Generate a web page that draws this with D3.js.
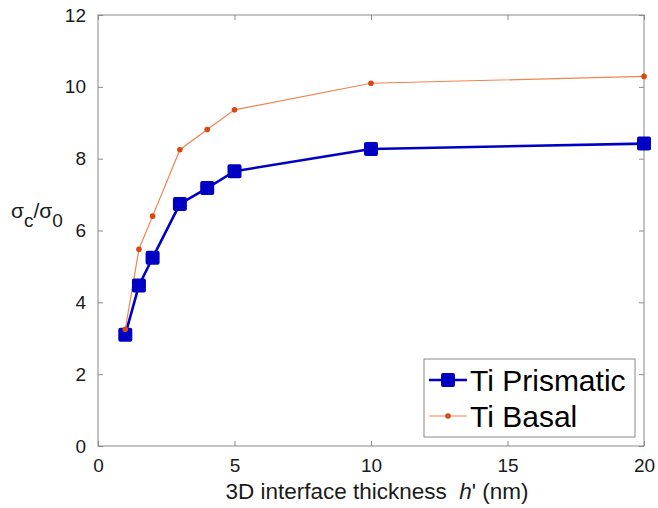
<!DOCTYPE html>
<html><head><meta charset="utf-8">
<script src="https://cdn.jsdelivr.net/npm/d3@7"></script>
<style>body{margin:0;background:#fff;} svg{display:block;font-family:"Liberation Sans",Arial,Helvetica,sans-serif;}</style>
</head><body>
<svg id="c" width="658" height="508"></svg>
<script>
const thickness = [1, 1.5, 2, 3, 4, 5, 10, 20];
const prismatic = [3.1, 4.47, 5.24, 6.74, 7.18, 7.65, 8.27, 8.42];
const basal     = [3.25, 5.48, 6.40, 8.25, 8.81, 9.36, 10.10, 10.29];
const xTicks = [0, 5, 10, 15, 20];
const yTicks = [0, 2, 4, 6, 8, 10, 12];
const seriesNames = ["Ti Prismatic", "Ti Basal"];

const svg = d3.select("#c");
const L = 98, R = 644, T = 15, B = 446;
const x = d3.scaleLinear().domain([0, 20]).range([L, R]);
const y = d3.scaleLinear().domain([0, 12]).range([B, T]);
const axisCol = "#8a8a8a", textCol = "#1a1a1a";

function styleAxis(g, hideText) {
  g.select(".domain").remove();
  g.selectAll(".tick line").attr("stroke", axisCol).attr("stroke-width", 1);
  g.selectAll(".tick text").attr("fill", textCol).style("font-size", "19px")
    .style("font-family", "'Liberation Sans',Arial,sans-serif");
  if (hideText) g.selectAll(".tick text").remove();
}
svg.append("g").attr("transform", `translate(0,${B})`)
  .call(d3.axisBottom(x).tickValues(xTicks).tickSizeInner(-5).tickSizeOuter(0).tickPadding(13).tickFormat(d3.format("d")))
  .call(g => styleAxis(g, false));
svg.append("g").attr("transform", `translate(0,${T})`)
  .call(d3.axisTop(x).tickValues(xTicks).tickSizeInner(-5).tickSizeOuter(0))
  .call(g => styleAxis(g, true));
svg.append("g").attr("transform", `translate(${L},0)`)
  .call(d3.axisLeft(y).tickValues(yTicks).tickSizeInner(-5).tickSizeOuter(0).tickPadding(12).tickFormat(d3.format("d")))
  .call(g => styleAxis(g, false));
svg.append("g").attr("transform", `translate(${R},0)`)
  .call(d3.axisRight(y).tickValues(yTicks).tickSizeInner(-5).tickSizeOuter(0))
  .call(g => styleAxis(g, true));

svg.append("rect").attr("x", L).attr("y", T).attr("width", R - L).attr("height", B - T)
  .attr("fill", "none").attr("stroke", axisCol).attr("stroke-width", 1);

const line = d3.line().x(d => x(d[0])).y(d => y(d[1]));
const blue = "#0000c4", orangeLine = "#f2834f", orangeMark = "#d9480f";

const pData = thickness.map((t, i) => [t, prismatic[i]]);
const bData = thickness.map((t, i) => [t, basal[i]]);

svg.append("path").datum(pData).attr("d", line).attr("fill", "none")
  .attr("stroke", blue).attr("stroke-width", 2.6).attr("stroke-linejoin", "round");
svg.append("path").datum(bData).attr("d", line).attr("fill", "none")
  .attr("stroke", orangeLine).attr("stroke-width", 1.2);

svg.selectAll(".pm").data(pData).enter().append("rect")
  .attr("x", d => x(d[0]) - 7).attr("y", d => y(d[1]) - 7)
  .attr("width", 14).attr("height", 14).attr("rx", 2).attr("fill", blue);
svg.selectAll(".bm").data(bData).enter().append("circle")
  .attr("cx", d => x(d[0])).attr("cy", d => y(d[1])).attr("r", 2.8).attr("fill", orangeMark);

svg.append("text").attr("x", 377).attr("y", 499).attr("text-anchor", "middle")
  .attr("fill", textCol).style("font-size", "22.5px")
  .html("3D interface thickness&#160;&#160;<tspan font-style='italic'>h</tspan>' (nm)");

const yl = svg.append("text").attr("x", 11).attr("y", 218).attr("fill", textCol).style("font-size", "21px");
yl.append("tspan").text("σ");
yl.append("tspan").attr("dy", 9).style("font-size", "19px").text("c");
yl.append("tspan").attr("dy", -9).text("/σ");
yl.append("tspan").attr("dy", 9).style("font-size", "19px").text("0");

const lg = svg.append("g");
lg.append("rect").attr("x", 424).attr("y", 359).attr("width", 211).attr("height", 78)
  .attr("fill", "#fff").attr("stroke", "#8a8a8a").attr("stroke-width", 1);
const rows = [
  {name: seriesNames[0], yy: 380, type: "sq"},
  {name: seriesNames[1], yy: 416, type: "ci"}
];
rows.forEach(r => {
  lg.append("line").attr("x1", 429).attr("x2", 467).attr("y1", r.yy).attr("y2", r.yy)
    .attr("stroke", r.type === "sq" ? blue : orangeLine).attr("stroke-width", r.type === "sq" ? 2.6 : 1.2);
  if (r.type === "sq") lg.append("rect").attr("x", 441).attr("y", r.yy - 7).attr("width", 14).attr("height", 14).attr("rx", 2).attr("fill", blue);
  else lg.append("circle").attr("cx", 448).attr("cy", r.yy).attr("r", 2.8).attr("fill", orangeMark);
  lg.append("text").attr("x", 470).attr("y", r.yy + 10.5).attr("fill", "#000").style("font-size", "30px").text(r.name);
});
</script>
</body></html>
